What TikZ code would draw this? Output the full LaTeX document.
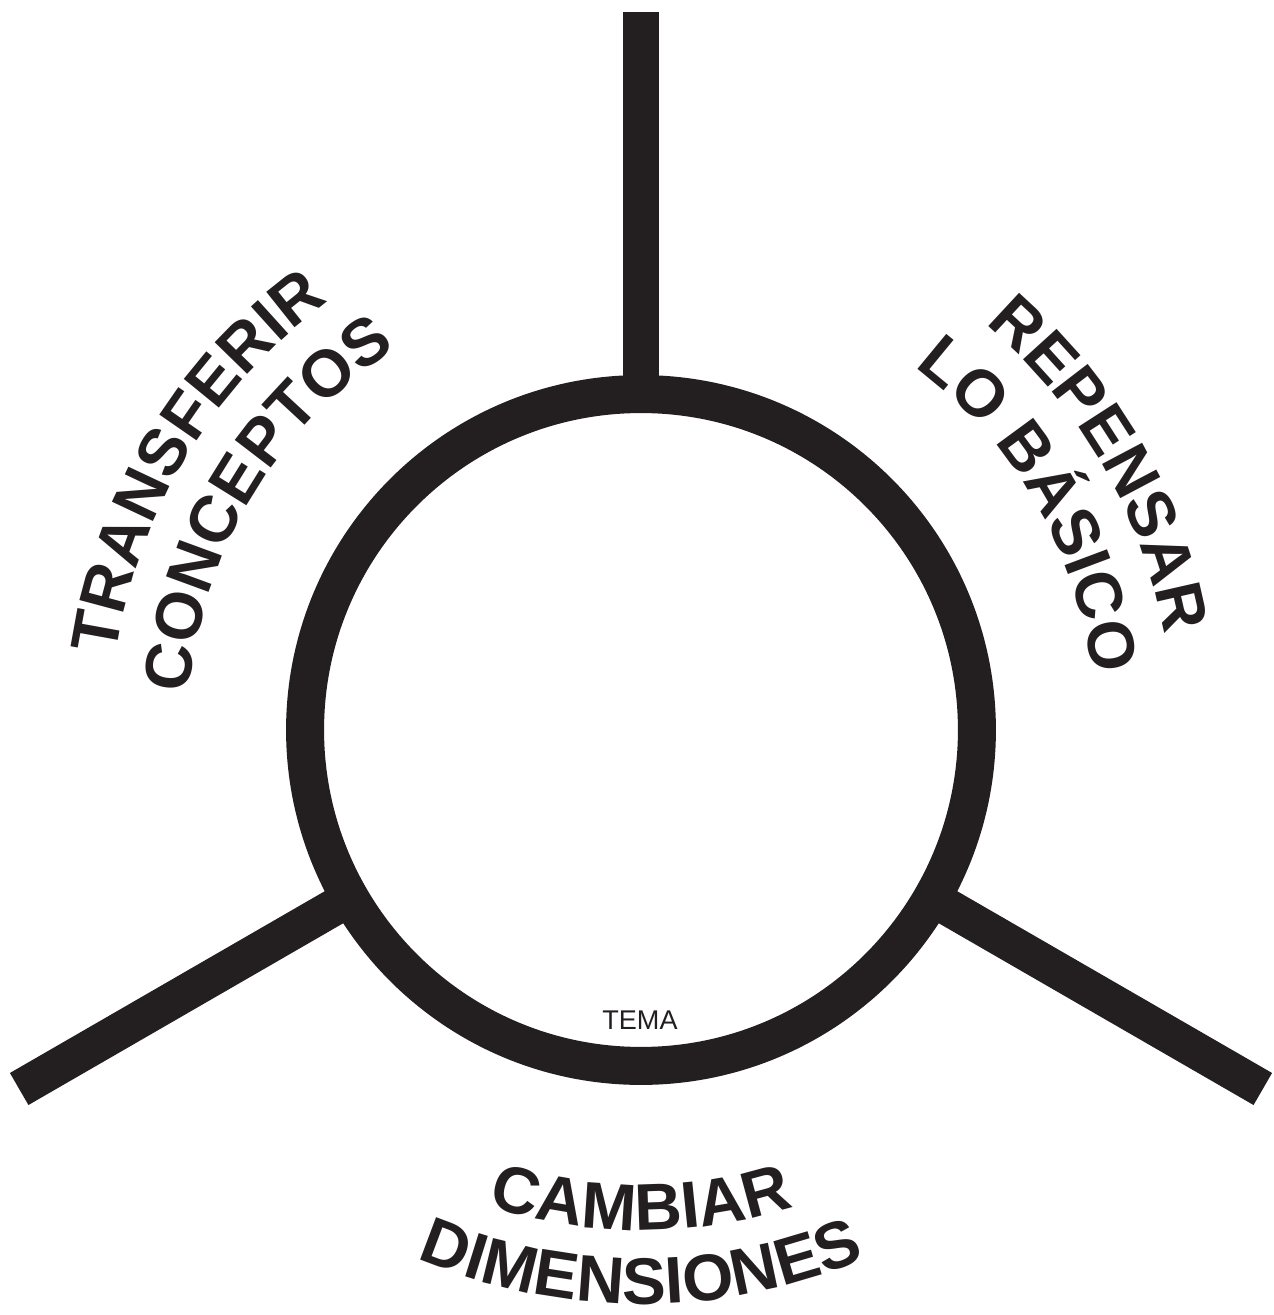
\documentclass[tikz,border=0pt]{standalone}
\usepackage{fontspec}
\setmainfont{Liberation Sans}
\usetikzlibrary{decorations.text}
\definecolor{ink}{RGB}{35,31,32}
\newcommand{\lblfont}{\fontsize{37.5}{37.5}\selectfont\bfseries}

\begin{document}
\begin{tikzpicture}[x=0.02cm, y=0.02cm,
  hub/.style={draw=ink, circle, line width=0.76cm, minimum size=13.44cm,
              inner sep=0pt, outer sep=0pt},
  spoke/.style={draw=ink, line width=0.74cm},
  curved/.style={decorate, decoration={text along path, text={#1},
                 text align=center, text color=ink}}]
  \useasboundingbox (-641,-585) rectangle (633,730);
  \node[hub] (hub) at (0,0) {};
  \coordinate (top) at (90:718);
  \coordinate (left) at (210:718);
  \coordinate (right) at (330:718);
  \draw[spoke] (hub.90) -- (top);
  \draw[spoke] (hub.210) -- (left);
  \draw[spoke] (hub.330) -- (right);
  \node[font=\fontsize{15.4}{15.4}\selectfont, text=ink] (tema) at (-1,-290) {TEMA};
  % labels along the arcs
  \path[curved={|\lblfont|TRANSFERIR}] (209:530) arc[start angle=209, end angle=89, radius=530];
  \path[curved={|\lblfont|CONCEPTOS}] (209:453) arc[start angle=209, end angle=89, radius=453];
  \path[curved={|\lblfont|REPENSAR}] (90:532) arc[start angle=90, end angle=-30, radius=532];
  \path[curved={|\lblfont|LO BÁSICO}] (90:455) arc[start angle=90, end angle=-30, radius=455];
  \path[curved={|\lblfont|CAMBIAR}] (210:500) arc[start angle=210, end angle=330, radius=500];
  \path[curved={|\lblfont|DIMENSIONES}] (210:574) arc[start angle=210, end angle=330, radius=574];
\end{tikzpicture}
\end{document}
